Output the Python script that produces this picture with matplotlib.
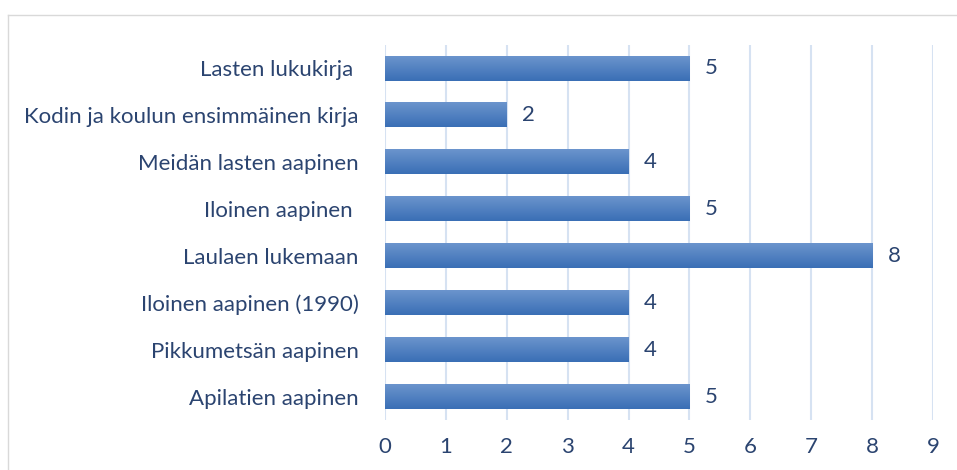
import numpy as np
import matplotlib.pyplot as plt
from matplotlib.lines import Line2D
from matplotlib.colors import LinearSegmentedColormap

books = ["Lasten lukukirja ", "Kodin ja koulun ensimmäinen kirja", "Meidän lasten aapinen",
         "Iloinen aapinen ", "Laulaen lukemaan", "Iloinen aapinen (1990)",
         "Pikkumetsän aapinen", "Apilatien aapinen"]
counts = [5, 2, 4, 5, 8, 4, 4, 5]

text_col = "#2B4470"
grid_col = "#D6E2F2"

plt.rcParams['font.family'] = ['Lato', 'DejaVu Sans']

fig = plt.figure(figsize=(9.57, 4.7), dpi=100)
ax = fig.add_axes([385/957, 1-420/470, (933-385)/957, 375/470])

y = np.arange(len(books))[::-1]
bh = 0.52
grad = np.linspace(0, 1, 50).reshape(-1, 1)
cmap = LinearSegmentedColormap.from_list("bar", ["#3A6FB5", "#6B94CD"])
for yi, c in zip(y, counts):
    ax.imshow(grad, cmap=cmap, aspect='auto', origin='lower',
              extent=[0, c, yi - bh/2, yi + bh/2], zorder=3)
    ax.annotate(str(c), (c, yi), xytext=(11, 0), textcoords='offset points',
                va='center', ha='left', fontsize=16, color=text_col)

ax.set_xlim(0, 9)
ax.set_ylim(-0.5, len(books) - 0.5)
ax.set_yticks(y)
ax.set_yticklabels(books)
ax.set_xticks(range(10))
ax.tick_params(axis='both', length=0, labelsize=16, labelcolor=text_col)
ax.tick_params(axis='y', pad=19)
ax.tick_params(axis='x', pad=12)
ax.grid(axis='x', color=grid_col, linewidth=1.5, zorder=0)
ax.set_axisbelow(True)
for s in ax.spines.values():
    s.set_visible(False)

# chart frame
fig.add_artist(Line2D([8/957, 8/957], [0, 1-15/470], color="#D9D9D9", lw=1, transform=fig.transFigure))
fig.add_artist(Line2D([8/957, 1], [1-15/470, 1-15/470], color="#D9D9D9", lw=1, transform=fig.transFigure))

fig.savefig("out.png", dpi=100)
